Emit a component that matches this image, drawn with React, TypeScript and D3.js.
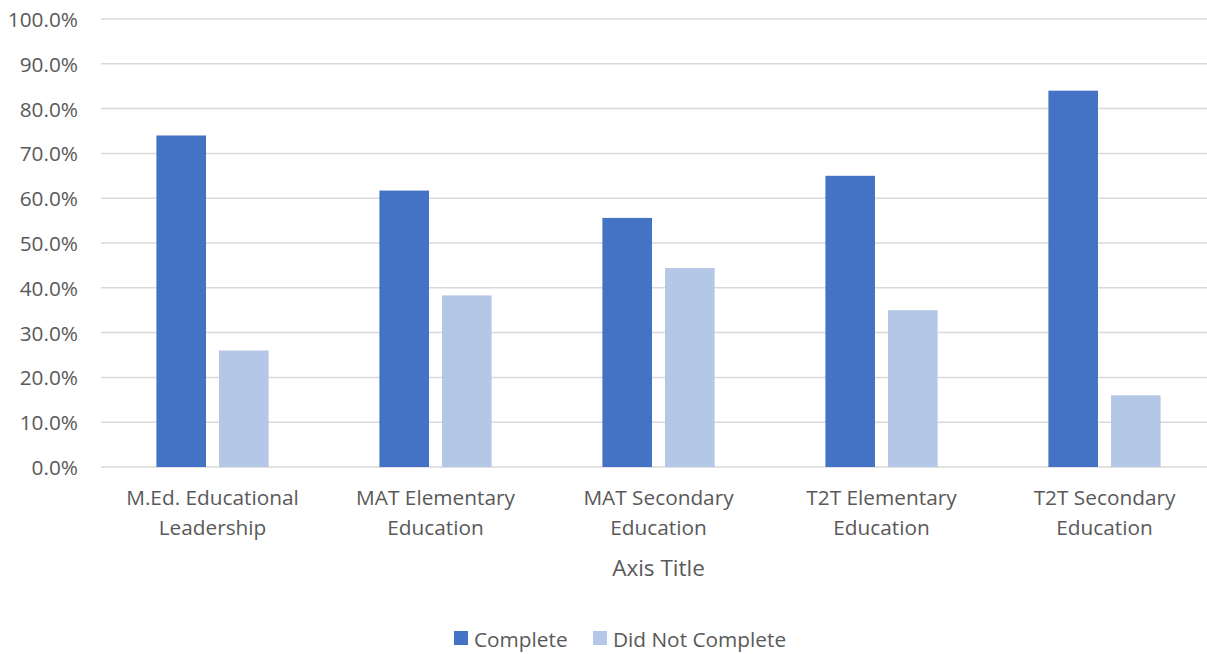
import * as d3 from "d3";

const CATEGORIES = [
  ["M.Ed. Educational", "Leadership"],
  ["MAT Elementary", "Education"],
  ["MAT Secondary", "Education"],
  ["T2T Elementary", "Education"],
  ["T2T Secondary", "Education"],
];
const SERIES = ["Complete", "Did Not Complete"];
const COMPLETE = [0.74, 0.617, 0.556, 0.65, 0.84];
const DID_NOT_COMPLETE = [0.26, 0.383, 0.444, 0.35, 0.16];
const Y_TICKS = [0, 0.1, 0.2, 0.3, 0.4, 0.5, 0.6, 0.7, 0.8, 0.9, 1.0];

const COLORS: Record<string, string> = {
  Complete: "#4472C4",
  "Did Not Complete": "#B4C7E7",
};

const WIDTH = 1207;
const HEIGHT = 654;
const PLOT = { left: 101, right: 1216, top: 19, bottom: 467 };
const FONT = "'Open Sans', 'Noto Sans', sans-serif";
const TEXT_COLOR = "#595959";
const LABEL_SIZE = 20.8;

export default function App() {
  const keys = CATEGORIES.map((c) => c.join(" "));
  const values: Record<string, number[]> = {
    Complete: COMPLETE,
    "Did Not Complete": DID_NOT_COMPLETE,
  };

  const x0 = d3.scaleBand().domain(keys).range([PLOT.left, PLOT.right]).padding(0);
  const x1 = d3
    .scaleBand()
    .domain(SERIES)
    .range([0, x0.bandwidth()])
    .paddingInner(0.208)
    .paddingOuter(0.885);
  const y = d3.scaleLinear().domain([0, 1]).range([PLOT.bottom, PLOT.top]);
  const fmt = d3.format(".1%");

  const legendItems = [
    { name: "Complete", x: 454 },
    { name: "Did Not Complete", x: 593 },
  ];

  return (
    <svg
      width={WIDTH}
      height={HEIGHT}
      style={{ position: "absolute", left: 0, top: 0, background: "#fff" }}
      fontFamily={FONT}
    >
      {/* grid + y labels */}
      <g>
        {Y_TICKS.map((t) => (
          <g key={t}>
            <line
              x1={PLOT.left}
              x2={WIDTH}
              y1={y(t)}
              y2={y(t)}
              stroke="#D9D9D9"
              strokeWidth={1.5}
            />
            <text
              x={78}
              y={y(t)}
              textAnchor="end"
              dominantBaseline="central"
              fill={TEXT_COLOR}
              fontSize={LABEL_SIZE}
            >
              {fmt(t)}
            </text>
          </g>
        ))}
      </g>

      {/* bars */}
      <g>
        {keys.map((k, i) => (
          <g key={k} transform={`translate(${x0(k)},0)`}>
            {SERIES.map((s) => {
              const v = values[s][i];
              return (
                <rect
                  key={s}
                  x={x1(s)}
                  y={y(v)}
                  width={x1.bandwidth()}
                  height={y(0) - y(v)}
                  fill={COLORS[s]}
                />
              );
            })}
          </g>
        ))}
      </g>

      {/* category labels */}
      <g>
        {CATEGORIES.map((lines, i) => {
          const cx = (x0(keys[i]) ?? 0) + x0.bandwidth() / 2;
          return (
            <text
              key={keys[i]}
              textAnchor="middle"
              fill={TEXT_COLOR}
              fontSize={LABEL_SIZE}
            >
              {lines.map((ln, j) => (
                <tspan key={j} x={cx} y={497 + j * 30} dominantBaseline="central">
                  {ln}
                </tspan>
              ))}
            </text>
          );
        })}
      </g>

      {/* axis title */}
      <text
        x={(PLOT.left + PLOT.right) / 2}
        y={567}
        textAnchor="middle"
        dominantBaseline="central"
        fill={TEXT_COLOR}
        fontSize={22.5}
      >
        Axis Title
      </text>

      {/* legend */}
      <g>
        {legendItems.map((d) => (
          <g key={d.name} transform={`translate(${d.x},631)`}>
            <rect width={14} height={14} fill={COLORS[d.name]} />
            <text
              x={20}
              y={7.5}
              dominantBaseline="central"
              fill={TEXT_COLOR}
              fontSize={LABEL_SIZE}
            >
              {d.name}
            </text>
          </g>
        ))}
      </g>
    </svg>
  );
}
